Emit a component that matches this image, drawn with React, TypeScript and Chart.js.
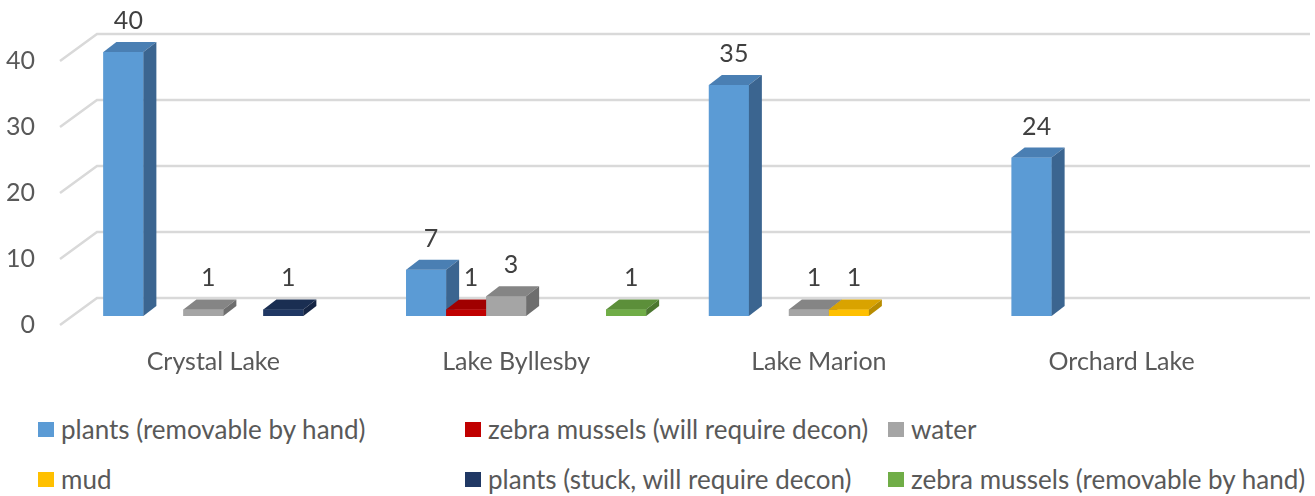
import React, { useEffect, useRef } from "react";
import { Chart, registerables } from "chart.js";

Chart.register(...registerables);

const categories = ["Crystal Lake", "Lake Byllesby", "Lake Marion", "Orchard Lake"];
const seriesNames = [
  "plants (removable by hand)",
  "zebra mussels (will require decon)",
  "water",
  "mud",
  "plants (stuck, will require decon)",
  "zebra mussels (removable by hand)",
];
const plantsRemovable = [40, 7, 35, 24];
const zebraDecon = [null, 1, null, null];
const water = [1, 3, 1, null];
const mud = [null, null, 1, null];
const plantsStuck = [1, null, null, null];
const zebraRemovable = [null, 1, null, null];
const yTicks = [0, 10, 20, 30, 40];

const seriesValues = [plantsRemovable, zebraDecon, water, mud, plantsStuck, zebraRemovable];
const frontColors = ["#5b9bd5", "#c00000", "#a5a5a5", "#ffc000", "#203864", "#70ad47"];
const topColors = ["#4a7fb3", "#a00000", "#858585", "#d9a300", "#1a2e52", "#5c8f3a"];
const sideColors = ["#3b6590", "#8a0000", "#6e6e6e", "#b88c00", "#152544", "#4c7730"];

const FONT = "Lato";
const DX = 13;
const DY = 10;

const threeDPlugin = {
  id: "threeD",
  beforeDatasetsDraw(chart: any) {
    const { ctx, chartArea, scales } = chart;
    const y = scales.y;
    ctx.save();
    ctx.strokeStyle = "#d9d9d9";
    ctx.lineWidth = 2.5;
    for (const v of yTicks) {
      const yy = y.getPixelForValue(v);
      ctx.beginPath();
      ctx.moveTo(chartArea.left - 12, yy + 9);
      ctx.lineTo(chartArea.left + 25, yy - 18);
      ctx.lineTo(chartArea.right + 27, yy - 18);
      ctx.stroke();
    }
    ctx.restore();
  },
  afterDatasetsDraw(chart: any) {
    const { ctx } = chart;
    const bars: any[] = [];
    chart.data.datasets.forEach((ds: any, i: number) => {
      const meta = chart.getDatasetMeta(i);
      meta.data.forEach((el: any, j: number) => {
        const v = ds.data[j];
        if (v === null || v === undefined) return;
        bars.push({ x: el.x, y: el.y, base: el.base, w: el.width, i, v });
      });
    });
    bars.sort((a, b) => a.x - b.x);
    ctx.save();
    for (const b of bars) {
      const l = b.x - b.w / 2;
      const r = b.x + b.w / 2;
      ctx.fillStyle = frontColors[b.i];
      ctx.fillRect(l, b.y, b.w, b.base - b.y);
      ctx.fillStyle = topColors[b.i];
      ctx.beginPath();
      ctx.moveTo(l, b.y);
      ctx.lineTo(l + DX, b.y - DY);
      ctx.lineTo(r + DX, b.y - DY);
      ctx.lineTo(r, b.y);
      ctx.closePath();
      ctx.fill();
      ctx.fillStyle = sideColors[b.i];
      ctx.beginPath();
      ctx.moveTo(r, b.y);
      ctx.lineTo(r + DX, b.y - DY);
      ctx.lineTo(r + DX, b.base - DY);
      ctx.lineTo(r, b.base);
      ctx.closePath();
      ctx.fill();
    }
    ctx.fillStyle = "#404040";
    ctx.font = `25px ${FONT}`;
    ctx.textAlign = "center";
    ctx.textBaseline = "middle";
    for (const b of bars) {
      ctx.fillText(String(b.v), b.x + 5, b.y - 31);
    }
    ctx.restore();
  },
};

export default function App() {
  const ref = useRef<HTMLCanvasElement | null>(null);
  useEffect(() => {
    if (!ref.current) return;
    const chart = new Chart(ref.current, {
      type: "bar",
      data: {
        labels: categories,
        datasets: seriesNames.map((name, i) => ({
          label: name,
          data: seriesValues[i],
          backgroundColor: frontColors[i],
          borderWidth: 0,
          barPercentage: 1,
          categoryPercentage: 240 / 302.75,
        })),
      },
      options: {
        animation: false,
        responsive: true,
        maintainAspectRatio: false,
        devicePixelRatio: 1,
        layout: { padding: { top: 48, right: 32, left: 0, bottom: 0 } },
        plugins: { legend: { display: false }, tooltip: { enabled: false } },
        scales: {
          x: {
            grid: { display: false, drawTicks: false },
            border: { display: false },
            ticks: {
              labelOffset: -10,
              padding: 31,
              color: "#595959",
              font: { family: FONT, size: 25 },
              maxRotation: 0,
              autoSkip: false,
            },
            afterFit(s: any) {
              s.height = 84;
            },
          },
          y: {
            min: 0,
            max: 40,
            grid: { display: false, drawTicks: false },
            border: { display: false },
            ticks: {
              stepSize: 10,
              labelOffset: 9,
              padding: 37,
              color: "#595959",
              font: { family: FONT, size: 25 },
            },
            afterFit(s: any) {
              s.width = 72;
            },
          },
        },
      },
      plugins: [threeDPlugin],
    });
    return () => chart.destroy();
  }, []);

  const legendCols = [38, 465, 888];
  const legendRows = [429, 479];

  return (
    <div style={{ position: "absolute", left: 0, top: 0, width: 1315, height: 496, background: "#fff", overflow: "hidden" }}>
      <div style={{ position: "absolute", left: 0, top: 0, width: 1315, height: 400 }}>
        <canvas ref={ref} />
      </div>
      {seriesNames.map((name, i) => {
        const col = i % 3;
        const row = Math.floor(i / 3);
        return (
          <div
            key={name}
            style={{
              position: "absolute",
              left: legendCols[col],
              top: legendRows[row] - 16,
              height: 32,
              display: "flex",
              alignItems: "center",
              whiteSpace: "nowrap",
              fontFamily: FONT,
              fontSize: 26,
              color: "#595959",
            }}
          >
            <span style={{ display: "inline-block", width: 16, height: 15, background: frontColors[i], marginRight: 7 }} />
            <span>{name}</span>
          </div>
        );
      })}
    </div>
  );
}
